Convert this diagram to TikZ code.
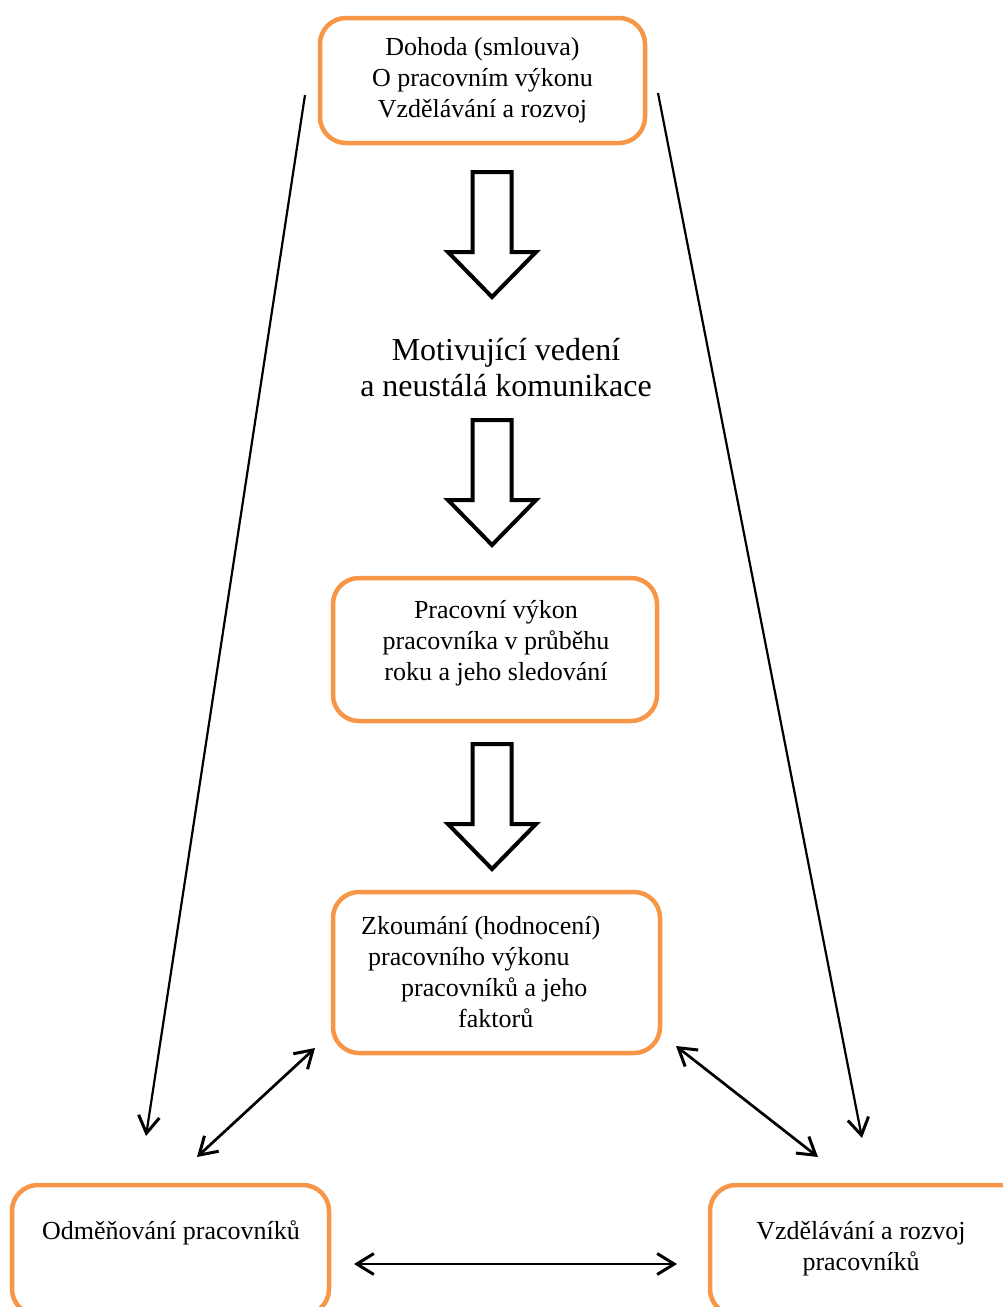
\documentclass[tikz,border=0pt]{standalone}
\usepackage{fontspec}
\setmainfont{Liberation Serif}
\usetikzlibrary{arrows.meta}
\definecolor{boxorange}{RGB}{247,150,70}
\begin{document}
\begin{tikzpicture}[x=1pt,y=-1pt,
  box/.style={draw=boxorange, line width=4.5pt, rounded corners=26pt, align=center, inner sep=0pt, font=\fontsize{26}{31}\selectfont},
  txt/.style={align=center, inner sep=0pt, font=\fontsize{26}{31}\selectfont},
  thinarrow/.style={line width=2.2pt, -{Straight Barb[length=17pt,width=21pt,line width=3pt]}},
  bothways/.style={line width=2.7pt, {Straight Barb[length=17pt,width=21pt,line width=3pt]}-{Straight Barb[length=17pt,width=21pt,line width=3pt]}},
  bigarrow/.style={draw, line width=4pt, fill=white, miter limit=10}]
\useasboundingbox (0,0) rectangle (1003,1307);
% boxes
\node[box, minimum width=325pt, minimum height=125pt] (dohoda) at (482.5,80.5){Dohoda (smlouva)\\O pracovním výkonu\\Vzdělávání a rozvoj};
\node[align=center, inner sep=0pt, font=\fontsize{32}{36}\selectfont] (vedeni) at (506,368){Motivující vedení\\a neustálá komunikace};
\node[box, minimum width=324pt, minimum height=143pt] (vykon) at (495,649.5){};
\node[txt] (vykontxt) at (496,643){Pracovní výkon\\pracovníka v průběhu\\roku a jeho sledování};
\node[box, minimum width=327pt, minimum height=161pt] (zkoumani) at (496.5,972.5){};
\node[txt, align=left, anchor=west] (zkoumanitxt) at (361,972.5){Zkoumání (hodnocení)\\\hspace*{7pt}pracovního výkonu\\\hspace*{40pt}pracovníků a jeho\\\hspace*{97pt}faktorů};
\node[box, minimum width=317pt, minimum height=130pt] (odmena) at (170.5,1250){};
\node[txt] (odmenatxt) at (171,1233){Odměňování pracovníků};
\node[box, minimum width=320pt, minimum height=130pt] (rozvoj) at (870,1250){};
\node[txt] (rozvojtxt) at (861,1249){Vzdělávání a rozvoj\\pracovníků};
% big hollow arrows
\foreach \t in {170,418,742}
  \draw[bigarrow] (472.5,\t+2) -- (511.5,\t+2) -- (511.5,\t+82) -- (536,\t+82) -- (492,\t+127) -- (448,\t+82) -- (472.5,\t+82) -- cycle;
% thin connectors
\coordinate (l0) at (305,95);
\coordinate (l1) at (146,1136);
\coordinate (r0) at (658,93);
\coordinate (r1) at (862,1138);
\coordinate (dl0) at (315,1048);
\coordinate (dl1) at (197,1157);
\coordinate (dr0) at (676,1046);
\coordinate (dr1) at (818,1157);
\coordinate (h0) at (354,1264);
\coordinate (h1) at (677,1264);
\draw[thinarrow](l0) -- (l1);
\draw[thinarrow](r0) -- (r1);
\draw[bothways](dl0) -- (dl1);
\draw[bothways](dr0) -- (dr1);
\draw[bothways](h0) -- (h1);
\end{tikzpicture}
\end{document}
